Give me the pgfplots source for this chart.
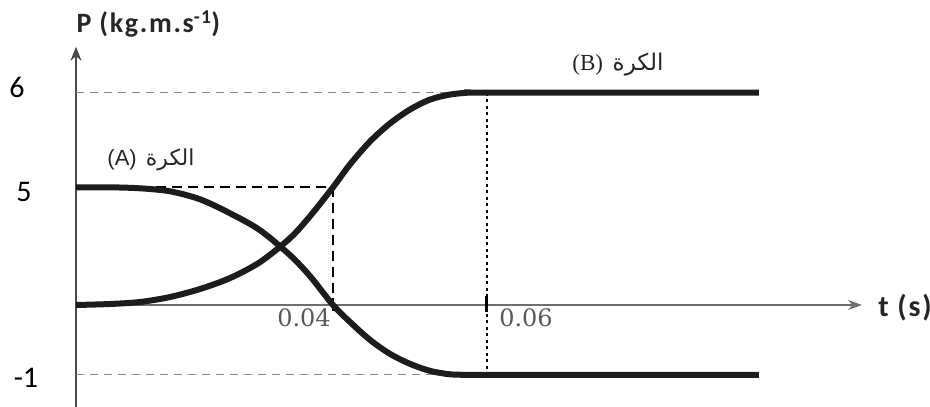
\documentclass[border=0pt]{standalone}
\usepackage{fontspec}
\usepackage{pgfplots}
\usepackage{pgfplotstable}
\pgfplotsset{compat=1.18}
\usetikzlibrary{arrows.meta}
\TeXXeTstate=1
\setmainfont{Liberation Serif}
\newfontfamily\calibri{Carlito}
\newfontfamily\calibriwide{Carlito}[LetterSpace=6]
\newfontfamily\serifnum{DejaVu Serif}
\newfontfamily\arialf{Liberation Sans}
\newfontfamily\arabicfont[Script=Arabic]{DejaVu Sans}

% momentum of ball A (kg.m/s) against time (s)
\pgfplotstableread{
t p
0       5
0.00529 5
0.00996 4.958
0.01463 4.831
0.01930 4.492
0.02397 3.898
0.02864 3.178
0.03331 2.119
0.03642 1.229
0.04    0
0.04221 -0.243
0.04481 -0.5
0.04740 -0.7
0.05    -0.843
0.05260 -0.943
0.05519 -0.993
0.05779 -1
0.06    -1
0.0953  -1
}\ballA

% momentum of ball B (kg.m/s) against time (s)
\pgfplotstableread{
t p
0       0
0.00529 0.042
0.00996 0.127
0.01463 0.339
0.01930 0.678
0.02397 1.144
0.02864 1.822
0.03331 2.839
0.03642 3.771
0.04    5
0.04221 5.242
0.04481 5.484
0.04740 5.674
0.05    5.821
0.05260 5.926
0.05519 5.979
0.05779 6
0.06    6
0.0953  6
}\ballB

\definecolor{axisgray}{HTML}{4A4A4A}
\definecolor{guidegray}{HTML}{8A8A8A}
\definecolor{curve}{HTML}{1C1C1C}

\begin{document}
\begin{tikzpicture}
\begin{axis}[
  scale only axis, width=786pt, height=360pt,
  axis lines=middle, clip=false,
  xmin=0, xmax=0.1087, ymin=-1.457, ymax=6.484,
  % schematic scales: stretched piecewise so the sketch keeps its shape
  x coord trafo/.code={\pgfmathparse{(#1)<0.04 ? 6425*(#1) : 257+7700*((#1)-0.04)}},
  y coord trafo/.code={\pgfmathparse{(#1)<0 ? 70*(#1) : ((#1)<5 ? 23.6*(#1) : 118+95*((#1)-5))}},
  xtick=\empty, ytick=\empty,
  x axis line style={guidegray!80!black, line width=1.3pt, -{Stealth[length=14pt,width=10pt]}},
  y axis line style={axisgray, line width=2.8pt, -{Stealth[length=14pt,width=11pt]}},
]
\coordinate (O) at (axis cs:0,0);

% guide lines
\addplot[guidegray, line width=1.2pt, dash pattern=on 8pt off 6pt] coordinates {(0,6) (0.06,6)};
\addplot[guidegray, line width=1.2pt, dash pattern=on 8pt off 6pt] coordinates {(0,-1) (0.06,-1)};
\addplot[black, line width=2.2pt, dash pattern=on 10pt off 6pt] coordinates {(0,5) (0.04,5)};
\addplot[black, line width=2.2pt, dash pattern=on 10pt off 6pt] coordinates {(0.04,5) (0.04,0)};
\addplot[black, line width=2.4pt, dash pattern=on 3pt off 3.5pt] coordinates {(0.06,6) (0.06,-1)};

% tick marks on the time axis
\addplot[black, line width=2.4pt] coordinates {(0.04,-0.08) (0.04,0.3)};
\addplot[black, line width=3pt] coordinates {(0.06,-0.1) (0.06,0.4)};

% the two balls
\addplot[curve, line width=6pt, smooth, no marks] table[x=t, y=p] {\ballA};
\addplot[curve, line width=6pt, smooth, no marks] table[x=t, y=p] {\ballB};
\end{axis}

% axis titles and tick values
\node[anchor=base west, text=black!85, font=\calibriwide\bfseries\fontsize{28}{32}\selectfont]
  at ([shift={(-3pt,272pt)}]O) {P (kg.m.s\textsuperscript{-1})};
\node[text=black!85, font=\calibriwide\bfseries\fontsize{30}{34}\selectfont]
  at ([shift={(829pt,-3pt)}]O) {t (s)};
\node[font=\calibri\fontsize{30}{36}\selectfont] at ([shift={(-59pt,218pt)}]O) {6};
\node[font=\calibri\fontsize{30}{36}\selectfont] at ([shift={(-52pt,113pt)}]O) {5};
\node[font=\calibri\fontsize{30}{36}\selectfont] at ([shift={(-50pt,-73pt)}]O) {-1};
\node[text=black!65, font=\serifnum\fontsize{24}{28}\selectfont] at ([shift={(228pt,-13pt)}]O) {0.04};
\node[text=black!65, font=\serifnum\fontsize{24}{28}\selectfont] at ([shift={(450pt,-13pt)}]O) {0.06};

% curve names
\node[text=black!85, font=\fontsize{22}{26}\selectfont] at ([shift={(75pt,145pt)}]O)
  {{\arialf (A)}\, {\arabicfont\beginR الكرة\endR}};
\node[text=black!85, font=\fontsize{23}{27}\selectfont] at ([shift={(542pt,240pt)}]O)
  {(B)\, {\arabicfont\beginR الكرة\endR}};

\pgfresetboundingbox
\path ([shift={(-76pt,-102pt)}]O) rectangle ++(930pt,407pt);
\end{tikzpicture}
\end{document}
